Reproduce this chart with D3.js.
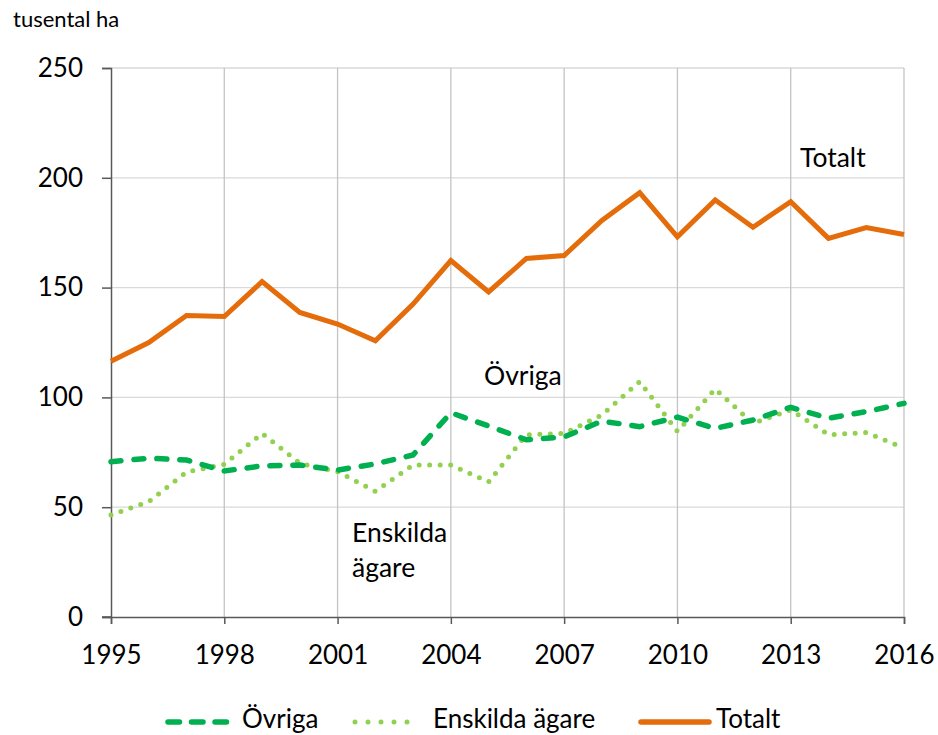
<!DOCTYPE html>
<html><head><meta charset="utf-8">
<script src="https://cdn.jsdelivr.net/npm/d3@7"></script>
<style>body{margin:0;background:#fff}svg{display:block}text{font-family:Lato,"Open Sans",sans-serif;fill:#000}</style>
</head><body>
<script>
const years = d3.range(1995, 2017);
const ovriga = [70.7,72.3,71.5,66.5,68.8,69.2,66.9,69.7,73.8,93,87,80.7,82,89.2,86.7,91,85.9,89.7,95.5,90.5,93.5,97.3];
const enskilda = [46.4,52.5,66,69.5,83.6,70,66.2,57.2,69.2,69.2,61.5,83,83.6,92,107.2,84.5,103.8,88.2,94.3,83,84,77];
const totalt = [116.5,125,137.3,136.8,152.7,138.7,133.4,125.8,142.5,162.3,148,163.3,164.6,180.6,193.2,173.1,189.9,177.5,189.1,172.4,177.3,174.2];
const yTicks = [0,50,100,150,200,250];
const xTicks = [1995,1998,2001,2004,2007,2010,2013,2016];
const unitLabel = "tusental ha";
const seriesNames = ["Övriga","Enskilda ägare","Totalt"];

const W = 938, H = 735;
const svg = d3.select("body").append("svg").attr("width", W).attr("height", H);
const x = d3.scaleLinear().domain([1995, 2016]).range([111, 904]);
const y = d3.scaleLinear().domain([0, 250]).range([617, 68]);

svg.append("g").selectAll("line").data(yTicks.slice(1)).join("line")
  .attr("x1", 111).attr("x2", 904).attr("y1", d => y(d)).attr("y2", d => y(d))
  .attr("stroke", "#d9d9d9").attr("stroke-width", 1.3);
svg.append("g").selectAll("line").data(xTicks.slice(1)).join("line")
  .attr("x1", d => x(d)).attr("x2", d => x(d)).attr("y1", 68).attr("y2", 617)
  .attr("stroke", "#c4c4c4").attr("stroke-width", 1.3);

const yAxis = svg.append("g").attr("transform", "translate(111,0)")
  .call(d3.axisLeft(y).tickValues(yTicks).tickSize(9).tickPadding(19));
const xAxis = svg.append("g").attr("transform", "translate(0,617)")
  .call(d3.axisBottom(x).tickValues(xTicks).tickFormat(d3.format("d")).tickSize(7).tickPadding(22));
[yAxis, xAxis].forEach(a => {
  a.select(".domain").attr("stroke", "#595959").attr("stroke-width", 1.5);
  a.selectAll(".tick line").attr("stroke", "#595959").attr("stroke-width", 1.5);
  a.selectAll(".tick text").style("font-size", "26px").attr("fill", "#000").style("font-family", "Lato");
});
svg.append("line").attr("x1", 102).attr("x2", 111).attr("y1", 617).attr("y2", 617).attr("stroke", "#595959").attr("stroke-width", 1.5);

svg.append("text").attr("x", 13).attr("y", 27).style("font-size", "22px").text(unitLabel);

const line = d3.line().x((d, i) => x(years[i])).y(d => y(d));
svg.append("path").datum(enskilda).attr("d", line).attr("fill", "none")
  .attr("stroke", "#92D050").attr("stroke-width", 5).attr("stroke-linecap", "round")
  .attr("stroke-dasharray", "0,10.5");
svg.append("path").datum(ovriga).attr("d", line).attr("fill", "none")
  .attr("stroke", "#00B050").attr("stroke-width", 5.5).attr("stroke-linecap", "round")
  .attr("stroke-dasharray", "10,13");
svg.append("path").datum(totalt).attr("d", line).attr("fill", "none")
  .attr("stroke", "#E46C0A").attr("stroke-width", 5).attr("stroke-linejoin", "miter");

const lab = (t, lx, ly) => svg.append("text").attr("x", lx).attr("y", ly).style("font-size", "26.5px").text(t);
lab("Totalt", 800, 167);
lab("Övriga", 484, 385);
lab("Enskilda", 352, 542);
lab("ägare", 352, 577);

const ly = 722;
const lg = svg.append("g");
lg.append("line").attr("x1", 168).attr("x2", 227).attr("y1", ly).attr("y2", ly)
  .attr("stroke", "#00B050").attr("stroke-width", 5.5).attr("stroke-linecap", "round").attr("stroke-dasharray", "11.5,12");
lg.append("text").attr("x", 242).attr("y", 728).style("font-size", "26px").text(seriesNames[0]);
lg.append("line").attr("x1", 355).attr("x2", 420).attr("y1", ly).attr("y2", ly)
  .attr("stroke", "#92D050").attr("stroke-width", 5).attr("stroke-linecap", "round").attr("stroke-dasharray", "0,13");
lg.append("text").attr("x", 433).attr("y", 728).style("font-size", "26px").text(seriesNames[1]);
lg.append("line").attr("x1", 641).attr("x2", 709).attr("y1", ly).attr("y2", ly)
  .attr("stroke", "#E46C0A").attr("stroke-width", 5.5).attr("stroke-linecap", "round");
lg.append("text").attr("x", 716).attr("y", 728).style("font-size", "26px").text(seriesNames[2]);
</script>
</body></html>
